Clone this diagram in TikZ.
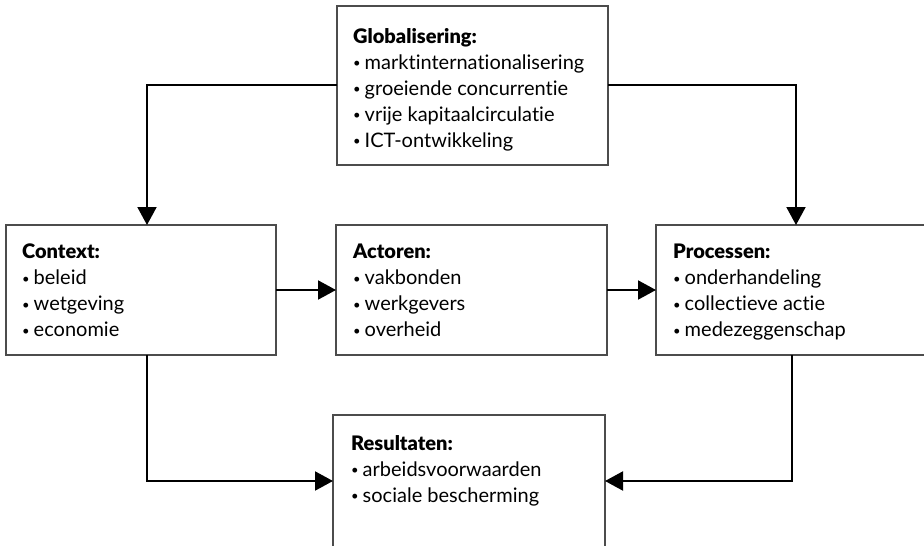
\documentclass[tikz,border=0pt]{standalone}
\usepackage{fontspec}
\setmainfont{Lato}[Ligatures=NoCommon, BoldFont={Lato Black}]
\usetikzlibrary{arrows.meta}
\newcommand{\bul}{{\fontsize{13}{26}\selectfont\raisebox{1.5pt}{•}}\hspace{4pt}}
\begin{document}
\begin{tikzpicture}[x=1pt,y=-1pt,
  box/.style={draw=black!70, line width=1.1pt, fill=white},
  txt/.style={anchor=north west, inner sep=0pt, align=left, font=\fontsize{20}{26}\selectfont},
  conn/.style={line width=2pt, -{Triangle[length=18pt,width=19pt]}}]
\useasboundingbox (0,0) rectangle (924,546);
\clip (0,0) rectangle (924,546);
\fill[white] (0,0) rectangle (924,546);
% boxes
\draw[box] (337,6) rectangle (608,165);
\coordinate (gW) at (337,85); \coordinate (gE) at (608,85);
\node[txt] (glob) at (353,28) {\textbf{Globalisering:}\\ \bul marktinternationalisering\\ \bul groeiende concurrentie\\ \bul vrije kapitaalcirculatie\\ \bul ICT-ontwikkeling};
\draw[box] (6,225) rectangle (276,355);
\coordinate (cN) at (147,225); \coordinate (cE) at (276,290); \coordinate (cS) at (147,355);
\node[txt] (ctx) at (22,244) {\textbf{Context:}\\ \bul beleid\\ \bul wetgeving\\ \bul economie};
\draw[box] (336,225) rectangle (607,355);
\coordinate (aW) at (336,290); \coordinate (aE) at (607,290);
\node[txt] (act) at (353,244) {\textbf{Actoren:}\\ \bul vakbonden\\ \bul werkgevers\\ \bul overheid};
\draw[box] (656,225) rectangle (940,355);
\coordinate (pN) at (796,225); \coordinate (pW) at (656,290); \coordinate (pS) at (792,355);
\node[txt] (proc) at (673,244) {\textbf{Processen:}\\ \bul onderhandeling\\ \bul collectieve actie\\ \bul medezeggenschap};
\draw[box] (333,415) rectangle (605,570);
\coordinate (rW) at (333,481); \coordinate (rE) at (605,481);
\node[txt] (res) at (351,435) {\textbf{Resultaten:}\\ \bul arbeidsvoorwaarden\\ \bul sociale bescherming};
% connectors
\draw[conn] (gW) -| (cN);
\draw[conn] (gE) -| (pN);
\draw[conn] (cE) -- (aW);
\draw[conn] (aE) -- (pW);
\draw[conn] (cS) |- (rW);
\draw[conn] (pS) |- (rE);
\end{tikzpicture}
\end{document}
